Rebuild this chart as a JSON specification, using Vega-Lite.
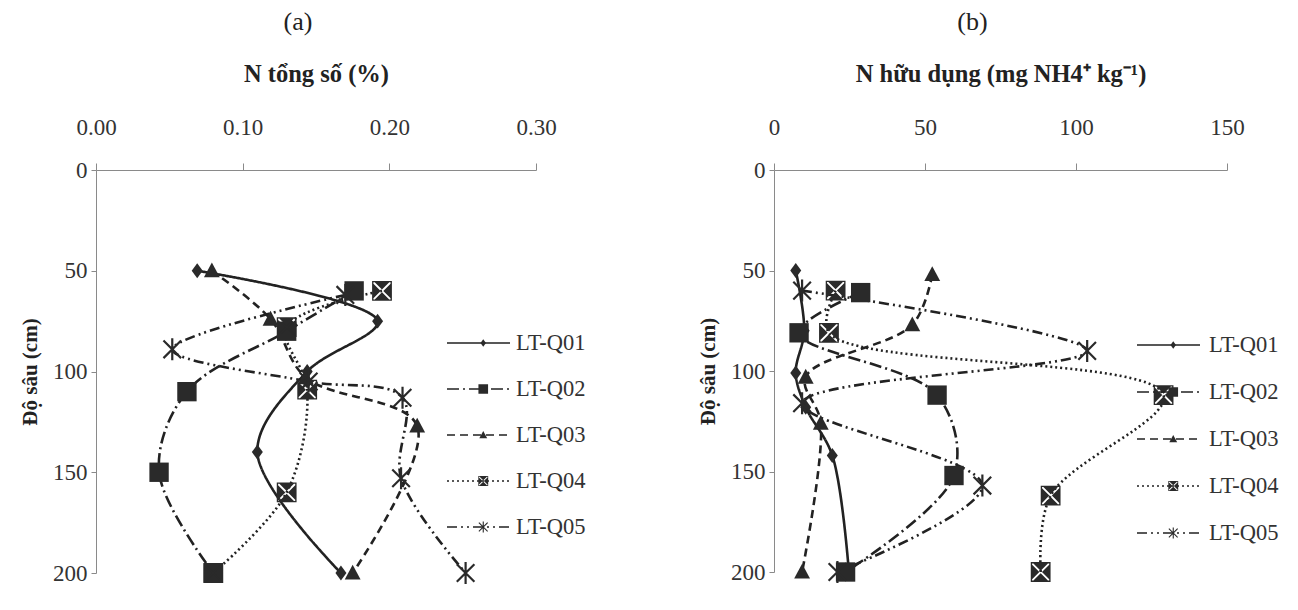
{
  "$schema": "https://vega.github.io/schema/vega-lite/v6.json",
  "padding": {"left": 19, "top": 9, "right": 5, "bottom": 5},
  "background": "white",
  "bounds": "flush",
  "spacing": 238,
  "config": {
    "font": "Liberation Serif",
    "view": {"stroke": null},
    "axis": {
      "grid": false,
      "labelFlush": false,
      "domainColor": "#8a8a8a",
      "tickColor": "#8a8a8a",
      "labelColor": "#333333",
      "titleColor": "#222222",
      "labelFontSize": 23,
      "titleFontSize": 24.5,
      "titleFontWeight": "bold",
      "labelFont": "Liberation Serif",
      "titleFont": "Liberation Serif"
    },
    "title": {"fontSize": 26, "fontWeight": "normal", "color": "#222222", "font": "Liberation Serif"},
    "legend": {"labelFont": "Liberation Serif", "labelFontSize": 22.5, "labelColor": "#333333"}
  },
  "resolve": {
    "scale": {"shape": "independent", "strokeDash": "independent"},
    "legend": {"shape": "independent", "strokeDash": "independent"}
  },
  "datasets": {
    "a": [
      {"site": "LT-Q01", "depth": 50, "value": 0.069},
      {"site": "LT-Q01", "depth": 75, "value": 0.192},
      {"site": "LT-Q01", "depth": 100, "value": 0.144},
      {"site": "LT-Q01", "depth": 140, "value": 0.110},
      {"site": "LT-Q01", "depth": 200, "value": 0.167},
      {"site": "LT-Q02", "depth": 60, "value": 0.176},
      {"site": "LT-Q02", "depth": 80, "value": 0.130},
      {"site": "LT-Q02", "depth": 110, "value": 0.062},
      {"site": "LT-Q02", "depth": 150, "value": 0.043},
      {"site": "LT-Q02", "depth": 200, "value": 0.080},
      {"site": "LT-Q03", "depth": 50, "value": 0.079},
      {"site": "LT-Q03", "depth": 74, "value": 0.119},
      {"site": "LT-Q03", "depth": 103, "value": 0.143},
      {"site": "LT-Q03", "depth": 127, "value": 0.219},
      {"site": "LT-Q03", "depth": 200, "value": 0.175},
      {"site": "LT-Q04", "depth": 60, "value": 0.195},
      {"site": "LT-Q04", "depth": 78, "value": 0.130},
      {"site": "LT-Q04", "depth": 109, "value": 0.144},
      {"site": "LT-Q04", "depth": 160, "value": 0.130},
      {"site": "LT-Q04", "depth": 200, "value": 0.080},
      {"site": "LT-Q05", "depth": 62, "value": 0.170},
      {"site": "LT-Q05", "depth": 89, "value": 0.052},
      {"site": "LT-Q05", "depth": 105, "value": 0.145},
      {"site": "LT-Q05", "depth": 113, "value": 0.209},
      {"site": "LT-Q05", "depth": 153, "value": 0.208},
      {"site": "LT-Q05", "depth": 200, "value": 0.252}
    ],
    "b": [
      {"site": "LT-Q01", "depth": 50, "value": 7.2},
      {"site": "LT-Q01", "depth": 80, "value": 10},
      {"site": "LT-Q01", "depth": 101, "value": 7.2},
      {"site": "LT-Q01", "depth": 118, "value": 10.5},
      {"site": "LT-Q01", "depth": 142, "value": 19.3},
      {"site": "LT-Q01", "depth": 200, "value": 24.8},
      {"site": "LT-Q02", "depth": 61, "value": 28.7},
      {"site": "LT-Q02", "depth": 81, "value": 8.3},
      {"site": "LT-Q02", "depth": 112, "value": 54},
      {"site": "LT-Q02", "depth": 152, "value": 59.6},
      {"site": "LT-Q02", "depth": 200, "value": 23.7},
      {"site": "LT-Q03", "depth": 52, "value": 52.4},
      {"site": "LT-Q03", "depth": 77, "value": 45.8},
      {"site": "LT-Q03", "depth": 103, "value": 10.5},
      {"site": "LT-Q03", "depth": 126, "value": 15.5},
      {"site": "LT-Q03", "depth": 200, "value": 9.3},
      {"site": "LT-Q04", "depth": 60, "value": 20.4},
      {"site": "LT-Q04", "depth": 81, "value": 18.2},
      {"site": "LT-Q04", "depth": 112, "value": 129},
      {"site": "LT-Q04", "depth": 162, "value": 91.6},
      {"site": "LT-Q04", "depth": 200, "value": 88.3},
      {"site": "LT-Q05", "depth": 60, "value": 9.3},
      {"site": "LT-Q05", "depth": 90, "value": 103.7},
      {"site": "LT-Q05", "depth": 116, "value": 9.3},
      {"site": "LT-Q05", "depth": 157, "value": 69},
      {"site": "LT-Q05", "depth": 200, "value": 21}
    ]
  },
  "hconcat": [
    {
      "width": 440,
      "height": 403,
      "title": {"text": "(a)", "offset": 26, "dx": -18},
      "data": {"name": "a"},
      "encoding": {
        "x": {
          "field": "value", "type": "quantitative",
          "scale": {"domain": [0, 0.3], "nice": false, "zero": false},
          "axis": {"orient": "top", "values": [0, 0.1, 0.2, 0.3], "format": ".2f", "tickSize": 7, "labelPadding": 24, "titlePadding": 30, "title": "N tổng số (%)"}
        },
        "y": {
          "field": "depth", "type": "quantitative",
          "scale": {"domain": [0, 200], "reverse": true, "nice": false},
          "axis": {"values": [0, 50, 100, 150, 200], "tickSize": 5, "labelPadding": 4, "titlePadding": 12, "title": "Độ sâu (cm)", "titleFontSize": 21}
        }
      },
      "layer": [
        {
          "mark": {"type": "line", "interpolate": "catmull-rom", "color": "#222222", "strokeWidth": 2.6},
          "encoding": {
            "order": {"field": "depth", "type": "quantitative"},
            "strokeDash": {
              "field": "site", "type": "nominal",
              "scale": {"domain": ["LT-Q01", "LT-Q02", "LT-Q03", "LT-Q04", "LT-Q05"], "range": [[1, 0], [12, 4, 2, 4], [8, 5], [2, 3], [10, 4, 2, 4, 2, 4]]},
              "legend": {"orient": "none", "legendX": 350, "legendY": 158, "title": null, "symbolType": "stroke", "symbolSize": 3969, "symbolStrokeWidth": 1.6, "symbolStrokeColor": "#222222", "clipHeight": 30, "rowPadding": 16, "labelOffset": 5, "zindex": 1}
            }
          }
        },
        {
          "mark": {"type": "point", "filled": true, "color": "#2a2a2a", "size": 484, "opacity": 1, "strokeWidth": 0},
          "encoding": {
            "shape": {
              "field": "site", "type": "nominal",
              "scale": {"range": [
                "M0,-0.68L0.5,0L0,0.68L-0.5,0Z",
                "M-0.88,-0.88H0.88V0.88H-0.88Z",
                "M0,-0.75L0.72,0.6L-0.72,0.6Z",
                "M-0.9,-0.9H0.9V0.9H-0.9Z M-0.78,-0.78V0.78H0.78V-0.78Z M-0.66,-0.78L0.66,-0.78L0,-0.12Z M0.66,0.78L-0.66,0.78L0,0.12Z M-0.78,0.66L-0.78,-0.66L-0.12,0Z M0.78,-0.66L0.78,0.66L0.12,0Z",
                "M-0.1,-1H0.1V1H-0.1Z M-0.73,-0.87L0.87,0.73L0.73,0.87L-0.87,-0.73Z M-0.87,0.73L0.73,-0.87L0.87,-0.73L-0.73,0.87Z"
              ]},
              "legend": {"orient": "none", "legendX": 376, "legendY": 158, "title": null, "symbolSize": 120, "symbolStrokeWidth": 0, "symbolFillColor": "#2a2a2a", "symbolOpacity": 1, "clipHeight": 30, "rowPadding": 16, "labelExpr": "''", "zindex": 2}
            }
          }
        }
      ]
    },
    {
      "width": 453,
      "height": 402,
      "title": {"text": "(b)", "offset": 26, "dx": -28},
      "data": {"name": "b"},
      "encoding": {
        "x": {
          "field": "value", "type": "quantitative",
          "scale": {"domain": [0, 150], "nice": false, "zero": false},
          "axis": {"orient": "top", "values": [0, 50, 100, 150], "tickSize": 7, "labelPadding": 24, "titlePadding": 30, "title": "N hữu dụng (mg NH4⁺ kg⁻¹)"}
        },
        "y": {
          "field": "depth", "type": "quantitative",
          "scale": {"domain": [0, 200], "reverse": true, "nice": false},
          "axis": {"values": [0, 50, 100, 150, 200], "tickSize": 5, "labelPadding": 4, "titlePadding": 12, "title": "Độ sâu (cm)", "titleFontSize": 21}
        }
      },
      "layer": [
        {
          "mark": {"type": "line", "interpolate": "catmull-rom", "color": "#222222", "strokeWidth": 2.6},
          "encoding": {
            "order": {"field": "depth", "type": "quantitative"},
            "strokeDash": {
              "field": "site", "type": "nominal",
              "scale": {"domain": ["LT-Q01", "LT-Q02", "LT-Q03", "LT-Q04", "LT-Q05"], "range": [[1, 0], [12, 4, 2, 4], [8, 5], [2, 3], [10, 4, 2, 4, 2, 4]]},
              "legend": {"orient": "none", "legendX": 362, "legendY": 160, "title": null, "symbolType": "stroke", "symbolSize": 3969, "symbolStrokeWidth": 1.6, "symbolStrokeColor": "#222222", "clipHeight": 30, "rowPadding": 17, "labelOffset": 8, "zindex": 1}
            }
          }
        },
        {
          "mark": {"type": "point", "filled": true, "color": "#2a2a2a", "size": 484, "opacity": 1, "strokeWidth": 0},
          "encoding": {
            "shape": {
              "field": "site", "type": "nominal",
              "scale": {"range": [
                "M0,-0.68L0.5,0L0,0.68L-0.5,0Z",
                "M-0.88,-0.88H0.88V0.88H-0.88Z",
                "M0,-0.75L0.72,0.6L-0.72,0.6Z",
                "M-0.9,-0.9H0.9V0.9H-0.9Z M-0.78,-0.78V0.78H0.78V-0.78Z M-0.66,-0.78L0.66,-0.78L0,-0.12Z M0.66,0.78L-0.66,0.78L0,0.12Z M-0.78,0.66L-0.78,-0.66L-0.12,0Z M0.78,-0.66L0.78,0.66L0.12,0Z",
                "M-0.1,-1H0.1V1H-0.1Z M-0.73,-0.87L0.87,0.73L0.73,0.87L-0.87,-0.73Z M-0.87,0.73L0.73,-0.87L0.87,-0.73L-0.73,0.87Z"
              ]},
              "legend": {"orient": "none", "legendX": 388, "legendY": 160, "title": null, "symbolSize": 120, "symbolStrokeWidth": 0, "symbolFillColor": "#2a2a2a", "symbolOpacity": 1, "clipHeight": 30, "rowPadding": 17, "labelExpr": "''", "zindex": 2}
            }
          }
        }
      ]
    }
  ]
}
